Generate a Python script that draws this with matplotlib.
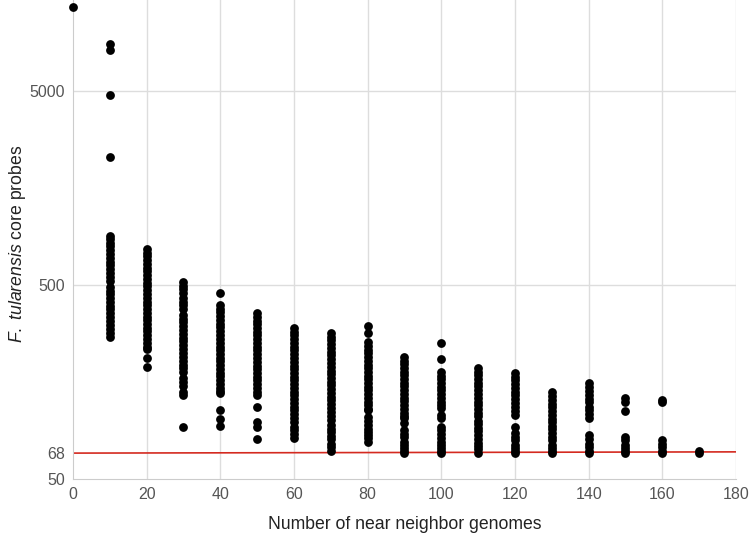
import matplotlib
matplotlib.use("Agg")
import matplotlib.pyplot as plt

# probes per genome count (log scale)
genomes = [0, 10, 20, 30, 40, 50, 60, 70, 80, 90, 100, 110, 120, 130, 140, 150, 160, 170]

col_000 = [13550]
col_010 = [8730, 8140, 4770, 2285, 895, 860, 825, 790, 755, 720, 690, 660, 632, 605, 578,
           552, 525, 488, 468, 448, 428, 410, 392, 375, 358, 342, 327, 312, 298, 284, 270]
col_020 = [767, 735, 703, 672, 643, 615, 588, 562, 538, 515, 492, 470, 450, 430, 411, 393,
           376, 360, 344, 329, 315, 301, 288, 275, 263, 251, 240, 234, 210, 189]
col_030 = [518, 496, 475, 455, 430, 411, 393, 376, 352, 336, 321, 307, 293, 280, 268, 256,
           245, 234, 222, 212, 203, 194, 186, 178, 165, 158, 151, 140, 136, 93]
col_040 = [455, 394, 377, 361, 345, 330, 316, 302, 289, 276, 264, 252, 241, 231, 221, 211,
           202, 193, 185, 177, 169, 162, 155, 148, 142, 139, 113, 102, 94]
col_050 = [359, 343, 328, 314, 300, 287, 275, 263, 251, 240, 230, 220, 210, 201, 192, 184,
           176, 168, 161, 154, 147, 141, 136, 117, 98, 93, 80]
col_060 = [300, 287, 275, 263, 251, 240, 230, 220, 210, 201, 192, 184, 176, 168, 161, 154,
           147, 141, 135, 129, 123, 118, 113, 108, 103, 98, 93, 89, 85, 81]
col_070 = [283, 271, 259, 248, 237, 227, 217, 207, 198, 190, 181, 174, 166, 159, 152, 145,
           139, 133, 127, 122, 116, 111, 106, 101, 95, 91, 87, 83, 80, 76, 73, 70]
col_080 = [307, 283, 254, 243, 232, 222, 212, 203, 194, 186, 178, 170, 163, 156, 149, 143,
           137, 131, 125, 120, 115, 113, 104, 99, 95, 91, 87, 84, 81, 78]
col_090 = [213, 204, 195, 187, 179, 171, 164, 157, 150, 143, 137, 131, 126, 120, 115, 110,
           105, 103, 97, 89, 85, 82, 78, 75, 72, 70, 68]
col_100 = [251, 208, 178, 170, 163, 156, 149, 143, 137, 131, 125, 120, 116, 107, 103, 93,
           89, 85, 81, 78, 75, 72, 70, 68]
col_110 = [187, 179, 171, 164, 157, 150, 143, 137, 131, 125, 120, 115, 110, 105, 100, 96,
           92, 88, 84, 80, 77, 74, 71, 68]
col_120 = [176, 168, 161, 154, 147, 141, 135, 129, 123, 118, 112, 107, 93, 86, 82, 79, 75,
           72, 70, 68]
col_130 = [140, 134, 128, 122, 117, 112, 107, 102, 98, 94, 90, 86, 82, 79, 75, 72, 70, 68]
col_140 = [156, 149, 142, 136, 130, 124, 118, 113, 108, 103, 84, 80, 76, 73, 70, 68]
col_150 = [131, 124, 112, 82, 79, 75, 72, 70, 68]
col_160 = [127, 125, 79, 76, 73, 70, 68]
col_170 = [70, 68]

columns = [col_000, col_010, col_020, col_030, col_040, col_050, col_060, col_070, col_080,
           col_090, col_100, col_110, col_120, col_130, col_140, col_150, col_160, col_170]

# red reference line (slightly tilted in the original)
ref_x = [0, 180]
ref_y = [68, 69]

yticks = [50, 68, 500, 5000]
xticks = [0, 20, 40, 60, 80, 100, 120, 140, 160, 180]

plt.rcParams["font.family"] = ["Liberation Sans", "DejaVu Sans"]
plt.rcParams["mathtext.fontset"] = "custom"
plt.rcParams["mathtext.it"] = "Liberation Sans:italic"
plt.rcParams["mathtext.rm"] = "Liberation Sans"

fig = plt.figure(figsize=(7.5, 5.33), dpi=100)
ax = fig.add_axes([0.0973, 0.1013, 0.884, 0.8987])

xs, ys = [], []
for g, vals in zip(genomes, columns):
    xs += [g] * len(vals)
    ys += vals
ax.scatter(xs, ys, s=40, color="black", linewidths=0, zorder=3, clip_on=False)

ax.plot(ref_x, ref_y, color="#d42a20", linewidth=1.2, zorder=2)

ax.set_yscale("log")
ax.set_xlim(0, 180)
ax.set_ylim(50, 14730)
ax.set_xticks(xticks)
ax.set_yticks(yticks)
ax.set_yticklabels([str(t) for t in yticks])
ax.yaxis.set_minor_locator(matplotlib.ticker.NullLocator())
ax.tick_params(length=0, labelsize=11.5, colors="#555555", pad=6)

for t in [500, 5000]:
    ax.axhline(t, color="#dddddd", linewidth=1, zorder=0)
for t in xticks[1:]:
    ax.axvline(t, color="#dddddd", linewidth=1, zorder=0)

for s in ["top", "right"]:
    ax.spines[s].set_visible(False)
for s in ["left", "bottom"]:
    ax.spines[s].set_color("#cccccc")

ax.set_xlabel("Number of near neighbor genomes", fontsize=12.7, color="#222222", labelpad=10)
ax.set_ylabel(r"$\it{F.\ tularensis}$ core probes", fontsize=12.7, color="#222222")
ax.yaxis.set_label_coords(-0.068, 0.49)

fig.savefig("out.png", dpi=100)
